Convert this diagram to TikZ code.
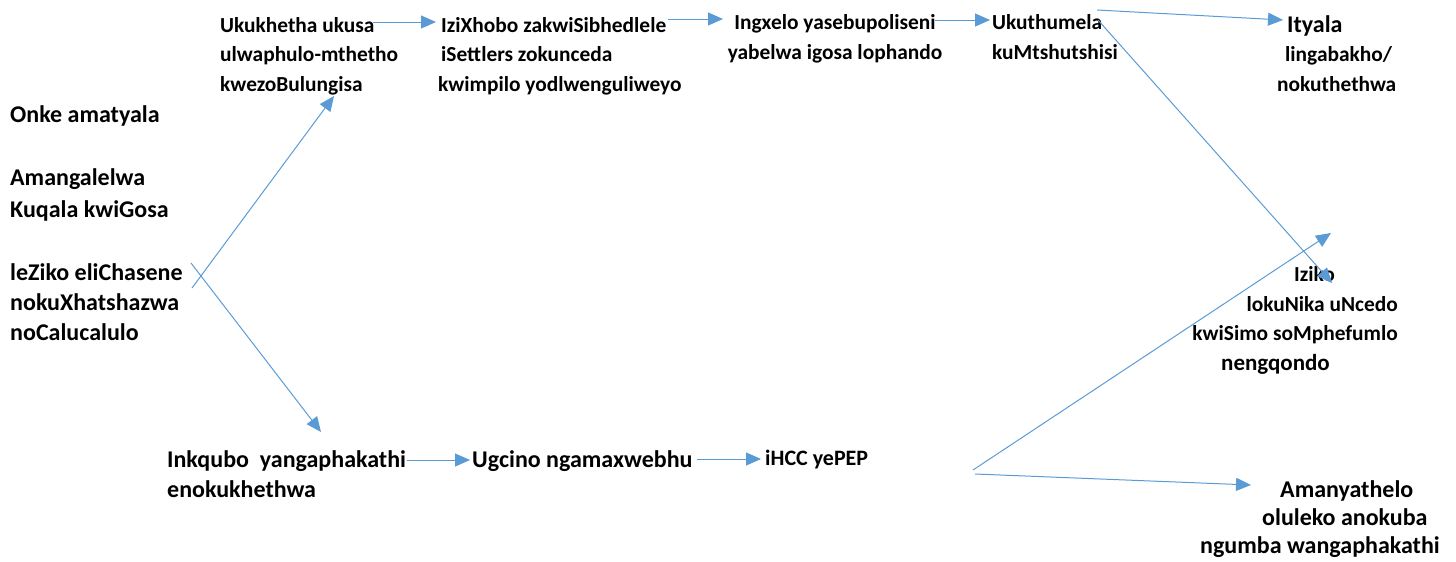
\documentclass[tikz,border=0pt]{standalone}
\usepackage{fontspec}
\setmainfont{Carlito}
\usetikzlibrary{arrows.meta}
\definecolor{arrowblue}{HTML}{5B9BD5}
\tikzset{
  conn/.style={draw=arrowblue, line width=1pt, -{Triangle[length=15pt,width=13pt]}},
  big/.style={inner sep=0pt, anchor=base west, align=left, font=\fontsize{24}{31}\selectfont\bfseries},
  small/.style={inner sep=0pt, anchor=base west, align=left, font=\fontsize{21.4}{29.5}\selectfont\bfseries},
}
\begin{document}
\begin{tikzpicture}[x=1pt,y=-1pt]
\useasboundingbox (0,0) rectangle (1456,562);
% left texts (anchor = baseline of last line)
\node[big] (l1) at (10,122) {Onke amatyala};
\node[big, font=\fontsize{24}{32}\selectfont\bfseries] (l2) at (10,217) {Amangalelwa\\Kuqala kwiGosa};
\node[big, font=\fontsize{24}{30}\selectfont\bfseries] (l3) at (10,340) {leZiko eliChasene\\nokuXhatshazwa\\noCalucalulo};
% top row
\node[small] (t1) at (220,91) {Ukukhetha ukusa\\ulwaphulo-mthetho\\kwezoBulungisa};
\node[small] (t2) at (438,91) {\hspace*{3pt}IziXhobo zakwiSibhedlele\\\hspace*{3pt}iSettlers zokunceda\\kwimpilo yodlwenguliweyo};
\node[small, align=center, anchor=base] (t3) at (835,59) {Ingxelo yasebupoliseni\\yabelwa igosa lophando};
\node[small] (t4) at (992,59) {Ukuthumela\\kuMtshutshisi};
\node[small] (t5) at (1277,91) {\hspace*{10pt}{\fontsize{24}{30}\selectfont Ityala}\\\hspace*{8pt}lingabakho/\\nokuthethwa};
\node[small, align=right, anchor=base east] (t6) at (1398,370) {Iziko\hspace*{63pt}\\lokuNika uNcedo\\kwiSimo soMphefumlo\\{\fontsize{23}{30}\selectfont nengqondo}\hspace*{68pt}};
% bottom row
\node[big, font=\fontsize{24}{30}\selectfont\bfseries] (b1) at (167,497) {Inkqubo\ \ yangaphakathi\\enokukhethwa};
\node[big] (b2) at (472,467) {Ugcino ngamaxwebhu};
\node[big, font=\fontsize{22}{28}\selectfont\bfseries] (b3) at (765,465) {iHCC yePEP};
\node[big, font=\fontsize{24}{28}\selectfont\bfseries] (b4) at (1200,553) {\hspace*{80pt}Amanyathelo\\\hspace*{62pt}oluleko anokuba\\ngumba wangaphakathi};
% connector end points
\coordinate (xa) at (192,288);
\coordinate (xb) at (191,263);
\coordinate (t1in) at (334,96);
\coordinate (b1in) at (321,432);
\coordinate (t1out) at (373,22);
\coordinate (t2in) at (436,22);
\coordinate (t2out) at (668,19);
\coordinate (t3in) at (723,19);
\coordinate (t3out) at (935,20);
\coordinate (t4in) at (990,20);
\coordinate (t4a) at (1097,10);
\coordinate (t5in) at (1283,20);
\coordinate (t4b) at (1098,20);
\coordinate (t6in) at (1332,283);
\coordinate (b1out) at (407,460);
\coordinate (b2in) at (470,460);
\coordinate (b2out) at (697,459);
\coordinate (b3in) at (761,459);
\coordinate (b3a) at (973,470);
\coordinate (t6b) at (1331,233);
\coordinate (b3b) at (975,474);
\coordinate (b4in) at (1251,485);
% connectors
\draw[conn] (xa) -- (t1in);
\draw[conn] (xb) -- (b1in);
\draw[conn] (t1out) -- (t2in);
\draw[conn] (t2out) -- (t3in);
\draw[conn] (t3out) -- (t4in);
\draw[conn] (t4a) -- (t5in);
\draw[conn] (t4b) -- (t6in);
\draw[conn] (b1out) -- (b2in);
\draw[conn] (b2out) -- (b3in);
\draw[conn] (b3a) -- (t6b);
\draw[conn] (b3b) -- (b4in);
\end{tikzpicture}
\end{document}
